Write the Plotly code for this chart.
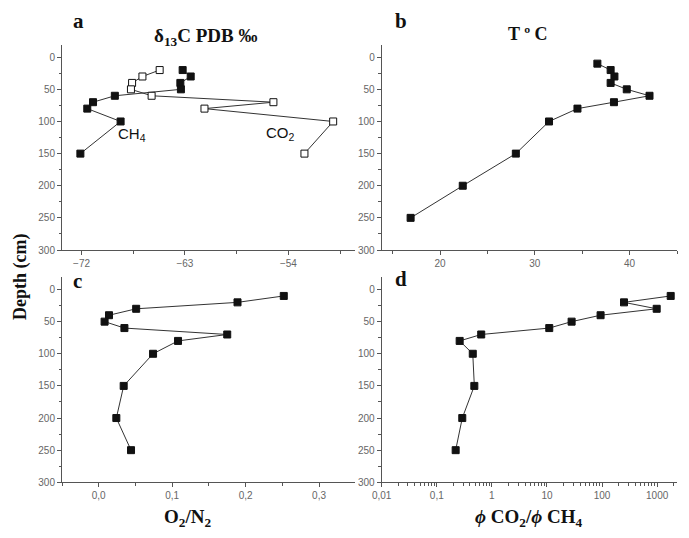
import plotly.graph_objects as go
from plotly.subplots import make_subplots

# data (depth in cm)
DEPTH_A = [20, 30, 40, 50, 60, 70, 80, 100, 150]
D13C_CH4 = [-63.2, -62.5, -63.4, -63.35, -69.1, -71.0, -71.5, -68.6, -72.1]
D13C_CO2 = [-65.2, -66.7, -67.6, -67.7, -65.9, -55.3, -61.3, -50.1, -52.6]

DEPTH_B = [10, 20, 30, 40, 50, 60, 70, 80, 100, 150, 200, 250]
TEMP = [36.6, 38.0, 38.4, 38.0, 39.7, 42.1, 38.35, 34.5, 31.5, 28.0, 22.4, 16.9]

DEPTH_C = [10, 20, 30, 40, 50, 60, 70, 80, 100, 150, 200, 250]
O2_N2 = [0.252, 0.189, 0.051, 0.014, 0.008, 0.035, 0.175, 0.108, 0.074, 0.034, 0.024, 0.044]

DEPTH_D = [10, 20, 30, 40, 50, 60, 70, 80, 100, 150, 200, 250]
CO2_CH4 = [1760, 250, 980, 94, 28, 11, 0.64, 0.26, 0.45, 0.48, 0.29, 0.22]

LOG_TICKS = [0.01, 0.1, 1, 10, 100, 1000]
LOG_LABELS = ["0,01", "0,1", "1", "10", "100", "1000"]

SERIF = "Liberation Serif, Times New Roman, serif"
SANS = "Liberation Sans, Arial, sans-serif"

# page body keeps an 8px margin, so the figure is a bit smaller than the window
PAD = 8
W, H = 689 - 2 * PAD, 538 - 2 * PAD


def px_x(x):
    return (x - PAD) / W


def px_y(y):
    return 1 - (y - PAD) / H


fig = make_subplots(rows=2, cols=2)

line = dict(color="#333", width=1)
filled = dict(symbol="square", size=7, color="#111", line=dict(color="#111", width=1))
hollow = dict(symbol="square", size=7, color="white", line=dict(color="#111", width=1))

fig.add_trace(go.Scatter(x=D13C_CH4, y=DEPTH_A, mode="lines+markers", line=line, marker=filled), 1, 1)
fig.add_trace(go.Scatter(x=D13C_CO2, y=DEPTH_A, mode="lines+markers", line=line, marker=hollow), 1, 1)
fig.add_trace(go.Scatter(x=TEMP, y=DEPTH_B, mode="lines+markers", line=line, marker=filled), 1, 2)
fig.add_trace(go.Scatter(x=O2_N2, y=DEPTH_C, mode="lines+markers", line=line, marker=filled), 2, 1)
fig.add_trace(go.Scatter(x=CO2_CH4, y=DEPTH_D, mode="lines+markers", line=line, marker=filled), 2, 2)

# panel placement (reference pixels -> paper)
left = [px_x(62), px_x(355)]
right = [px_x(381.7), px_x(677)]
top = [px_y(250), px_y(45)]
bottom = [px_y(482.3), px_y(277.3)]

ax_common = dict(
    showline=True, linecolor="#555", linewidth=1, showgrid=False, zeroline=False,
    ticks="outside", ticklen=4, tickcolor="#555", tickwidth=1, automargin=False,
    tickfont=dict(family=SANS, size=10, color="#666"),
)
minor_common = dict(ticks="outside", ticklen=2.5, tickcolor="#555", showgrid=False)

fig.update_layout(
    width=W, height=H, showlegend=False,
    margin=dict(l=0, r=0, t=0, b=0, autoexpand=False),
    paper_bgcolor="white", plot_bgcolor="white",
    separators=",.",
    xaxis=dict(ax_common, domain=left, range=[-73.7, -48.2], tick0=-72, dtick=9,
               minor=dict(minor_common, tick0=-72, dtick=4.5)),
    xaxis2=dict(ax_common, domain=right, range=[13.85, 45], tick0=20, dtick=10,
                minor=dict(minor_common, tick0=15, dtick=5)),
    xaxis3=dict(ax_common, domain=left, range=[-0.05, 0.349], tick0=0, dtick=0.1,
                tickformat=".1f", minor=dict(minor_common, tick0=0, dtick=0.05)),
    xaxis4=dict(ax_common, domain=right, type="log", range=[-2, 3.36],
                tickvals=LOG_TICKS, ticktext=LOG_LABELS,
                minor=dict(minor_common, tickvals=[m * 10 ** e for e in range(-2, 4) for m in range(2, 10)])),
)
for name, dom in [("yaxis", top), ("yaxis2", top), ("yaxis3", bottom), ("yaxis4", bottom)]:
    fig.layout[name].update(ax_common, domain=dom, range=[300, -19], tick0=0, dtick=50,
                            minor=dict(minor_common, tick0=0, dtick=25))


def note(text, x, y, size, font=SERIF, bold=True, angle=0):
    if bold:
        text = "<b>" + text + "</b>"
    fig.add_annotation(text=text, x=px_x(x), y=px_y(y), xref="paper", yref="paper",
                       xanchor="center", yanchor="middle",
                       showarrow=False, textangle=angle,
                       font=dict(family=font, size=size, color="#111"))


note("a", 78, 21, 21)
note("δ<sub>13</sub>C PDB ‰", 205, 37, 19)
note("b", 401, 21, 21)
note("T º C", 528, 34, 18)
note("c", 77, 281, 21)
note("d", 401, 279, 21)
note("Depth (cm)", 20, 277, 18, angle=-90)
note("O<sub>2</sub>/N<sub>2</sub>", 187, 518, 19)
note("<i>ϕ</i> CO<sub>2</sub>/<i>ϕ</i> CH<sub>4</sub>", 528, 518, 19)

fig.add_annotation(text="CH<sub>4</sub>", x=-67.6, y=120, xref="x", yref="y", showarrow=False,
                   font=dict(family=SANS, size=15, color="#111"))
fig.add_annotation(text="CO<sub>2</sub>", x=-54.7, y=118, xref="x", yref="y", showarrow=False,
                   font=dict(family=SANS, size=15, color="#111"))

fig.write_html("out.html")
